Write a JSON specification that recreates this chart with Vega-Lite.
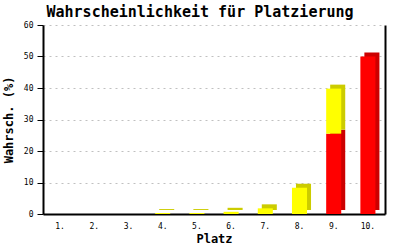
{
  "$schema": "https://vega.github.io/schema/vega-lite/v6.json",
  "width": 342,
  "height": 189,
  "autosize": {"type": "none"},
  "padding": {"left": 43, "top": 25, "right": 15, "bottom": 36},
  "background": "white",
  "title": {"text": "Wahrscheinlichkeit für Platzierung", "font": "DejaVu Sans Mono", "fontSize": 15, "fontWeight": "bold", "color": "black", "anchor": "middle", "dx": -14, "offset": 1},
  "config": {
    "view": {"stroke": null},
    "font": "DejaVu Sans Mono",
    "axis": {"labelFont": "DejaVu Sans Mono", "labelFontSize": 8, "labelColor": "black", "titleFont": "DejaVu Sans Mono", "titleFontSize": 12, "titleFontWeight": "bold", "titleColor": "black", "domainColor": "black", "tickColor": "black"}
  },
  "data": {"values": [
    {"platz": "4.", "teil": "gelb", "wert": 0.3},
    {"platz": "5.", "teil": "gelb", "wert": 0.3},
    {"platz": "6.", "teil": "gelb", "wert": 0.7},
    {"platz": "7.", "teil": "gelb", "wert": 1.8},
    {"platz": "8.", "teil": "gelb", "wert": 8.3},
    {"platz": "9.", "teil": "rot", "wert": 25.5},
    {"platz": "9.", "teil": "gelb", "wert": 14.3},
    {"platz": "10.", "teil": "rot", "wert": 50}
  ]},
  "encoding": {
    "x": {"field": "platz", "type": "nominal", "scale": {"domain": ["1.", "2.", "3.", "4.", "5.", "6.", "7.", "8.", "9.", "10."], "paddingInner": 0.56, "paddingOuter": 0.28},
      "axis": {"title": "Platz", "labelAngle": 0, "ticks": false, "labelPadding": 8, "titlePadding": 3, "domainWidth": 2}},
    "order": {"field": "teil", "sort": "descending"}
  },
  "layer": [
    {
      "encoding": {
        "y": {"field": "wert", "type": "quantitative", "aggregate": "sum", "stack": "zero", "scale": {"domain": [0, 60]},
          "axis": {"title": "Wahrsch. (%)", "values": [0, 10, 20, 30, 40, 50, 60], "tickSize": 6, "labelPadding": 4, "titlePadding": 8, "gridColor": "#c0c0c0", "gridDash": [2, 4], "domainWidth": 2}}
      },
      "layer": [
        {
          "mark": {"type": "bar", "xOffset": 4, "yOffset": -4},
          "encoding": {
            "color": {"field": "teil", "type": "nominal", "scale": {"domain": ["rot", "gelb"], "range": ["#cc0000", "#cccc00"]}, "legend": null}
          }
        },
        {
          "mark": {"type": "bar"},
          "encoding": {
            "color": {"field": "teil", "type": "nominal", "scale": {"domain": ["rot", "gelb"], "range": ["#ff0000", "#ffff00"]}, "legend": null}
          }
        }
      ],
      "resolve": {"scale": {"color": "independent"}}
    },
    {
      "mark": {"type": "bar", "opacity": 0},
      "encoding": {
        "y": {"field": "wert", "type": "quantitative", "aggregate": "sum", "stack": "zero", "scale": {"domain": [0, 60]},
          "axis": {"orient": "right", "title": null, "labels": false, "ticks": false, "grid": false, "domainWidth": 2}}
      }
    }
  ],
  "resolve": {"scale": {"color": "independent"}, "axis": {"y": "independent"}}
}
